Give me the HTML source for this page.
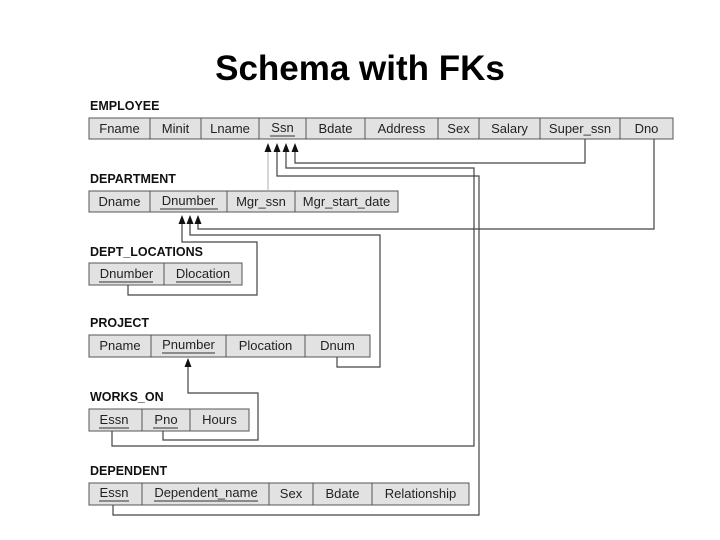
<!DOCTYPE html>
<html><head><meta charset="utf-8"><style>
html,body{margin:0;padding:0;background:#fff;width:720px;height:540px;overflow:hidden}
svg{display:block}
.t{font-family:"Liberation Sans",sans-serif;font-size:13px;fill:#222}
.l{font-family:"Liberation Sans",sans-serif;font-size:12.5px;font-weight:bold;fill:#111}
.c{fill:#e2e2e2;stroke:#555;stroke-width:1}
.w{fill:none;stroke:#444;stroke-width:1.2}
.u{stroke:#333;stroke-width:1}
</style></head><body>
<svg width="720" height="540" viewBox="0 0 720 540" xmlns="http://www.w3.org/2000/svg">
<text x="360" y="80" text-anchor="middle" font-family="Liberation Sans, sans-serif" font-size="35" font-weight="bold" fill="#000">Schema with FKs</text>

<text class="l" x="90" y="110">EMPLOYEE</text>
<g>
<rect class="c" x="89" y="118" width="61" height="21"/><text class="t" x="119.5" y="133" text-anchor="middle">Fname</text>
<rect class="c" x="150" y="118" width="51" height="21"/><text class="t" x="175.5" y="133" text-anchor="middle">Minit</text>
<rect class="c" x="201" y="118" width="58" height="21"/><text class="t" x="230" y="133" text-anchor="middle">Lname</text>
<rect class="c" x="259" y="118" width="47" height="21"/><text class="t" x="282.5" y="132" text-anchor="middle">Ssn</text><line class="u" x1="270" y1="136" x2="295" y2="136"/>
<rect class="c" x="306" y="118" width="59" height="21"/><text class="t" x="335.5" y="133" text-anchor="middle">Bdate</text>
<rect class="c" x="365" y="118" width="73" height="21"/><text class="t" x="401.5" y="133" text-anchor="middle">Address</text>
<rect class="c" x="438" y="118" width="41" height="21"/><text class="t" x="458.5" y="133" text-anchor="middle">Sex</text>
<rect class="c" x="479" y="118" width="61" height="21"/><text class="t" x="509.5" y="133" text-anchor="middle">Salary</text>
<rect class="c" x="540" y="118" width="80" height="21"/><text class="t" x="580" y="133" text-anchor="middle">Super_ssn</text>
<rect class="c" x="620" y="118" width="53" height="21"/><text class="t" x="646.5" y="133" text-anchor="middle">Dno</text>
</g>

<text class="l" x="90" y="183">DEPARTMENT</text>
<rect class="c" x="89" y="191" width="61" height="21"/><text class="t" x="119.5" y="206" text-anchor="middle">Dname</text>
<rect class="c" x="150" y="191" width="77" height="21"/><text class="t" x="188.5" y="205" text-anchor="middle">Dnumber</text><line class="u" x1="160" y1="209" x2="218" y2="209"/>
<rect class="c" x="227" y="191" width="68" height="21"/><text class="t" x="261" y="206" text-anchor="middle">Mgr_ssn</text>
<rect class="c" x="295" y="191" width="103" height="21"/><text class="t" x="346.5" y="206" text-anchor="middle">Mgr_start_date</text>

<text class="l" x="90" y="256">DEPT_LOCATIONS</text>
<rect class="c" x="89" y="263" width="75" height="22"/><text class="t" x="126.5" y="278" text-anchor="middle">Dnumber</text><line class="u" x1="99" y1="282" x2="153" y2="282"/>
<rect class="c" x="164" y="263" width="78" height="22"/><text class="t" x="203" y="278" text-anchor="middle">Dlocation</text><line class="u" x1="176" y1="282" x2="231" y2="282"/>

<text class="l" x="90" y="327">PROJECT</text>
<rect class="c" x="89" y="335" width="62" height="22"/><text class="t" x="120" y="350" text-anchor="middle">Pname</text>
<rect class="c" x="151" y="335" width="75" height="22"/><text class="t" x="188.5" y="349" text-anchor="middle">Pnumber</text><line class="u" x1="162" y1="353" x2="215" y2="353"/>
<rect class="c" x="226" y="335" width="79" height="22"/><text class="t" x="265.5" y="350" text-anchor="middle">Plocation</text>
<rect class="c" x="305" y="335" width="65" height="22"/><text class="t" x="337.5" y="350" text-anchor="middle">Dnum</text>

<text class="l" x="90" y="401">WORKS_ON</text>
<rect class="c" x="89" y="409" width="53" height="22"/><text class="t" x="114" y="424" text-anchor="middle">Essn</text><line class="u" x1="99" y1="428" x2="129" y2="428"/>
<rect class="c" x="142" y="409" width="48" height="22"/><text class="t" x="166" y="424" text-anchor="middle">Pno</text><line class="u" x1="153" y1="428" x2="178" y2="428"/>
<rect class="c" x="190" y="409" width="59" height="22"/><text class="t" x="219.5" y="424" text-anchor="middle">Hours</text>

<text class="l" x="90" y="475">DEPENDENT</text>
<rect class="c" x="89" y="483" width="53" height="22"/><text class="t" x="114" y="497" text-anchor="middle">Essn</text><line class="u" x1="99" y1="501" x2="129" y2="501"/>
<rect class="c" x="142" y="483" width="127" height="22"/><text class="t" x="206" y="497" text-anchor="middle">Dependent_name</text><line class="u" x1="154" y1="501" x2="258" y2="501"/>
<rect class="c" x="269" y="483" width="44" height="22"/><text class="t" x="291" y="498" text-anchor="middle">Sex</text>
<rect class="c" x="313" y="483" width="59" height="22"/><text class="t" x="342.5" y="498" text-anchor="middle">Bdate</text>
<rect class="c" x="372" y="483" width="97" height="22"/><text class="t" x="420.5" y="498" text-anchor="middle">Relationship</text>

<line x1="268" y1="150" x2="268" y2="191" stroke="#bbb" stroke-width="1.2"/>
<polyline class="w" points="277,150 277,176 479,176 479,515 113,515 113,505"/>
<polyline class="w" points="286,150 286,168 474,168 474,446 112,446 112,431"/>
<polyline class="w" points="295,150 295,163 585,163 585,139"/>
<polyline class="w" points="198,222 198,229 654,229 654,139"/>
<polyline class="w" points="190,222 190,235 380,235 380,367 337,367 337,357"/>
<polyline class="w" points="182,222 182,242 257,242 257,295 128,295 128,285"/>
<polyline class="w" points="188,365 188,393 258,393 258,440 163,440 163,431"/>
<g fill="#111">
<polygon points="268,143 264.5,152 271.5,152"/>
<polygon points="277,143 273.5,152 280.5,152"/>
<polygon points="286,143 282.5,152 289.5,152"/>
<polygon points="295,143 291.5,152 298.5,152"/>
<polygon points="182,215 178.5,224 185.5,224"/>
<polygon points="190,215 186.5,224 193.5,224"/>
<polygon points="198,215 194.5,224 201.5,224"/>
<polygon points="188,358 184.5,367 191.5,367"/>
</g>
</svg>
</body></html>
